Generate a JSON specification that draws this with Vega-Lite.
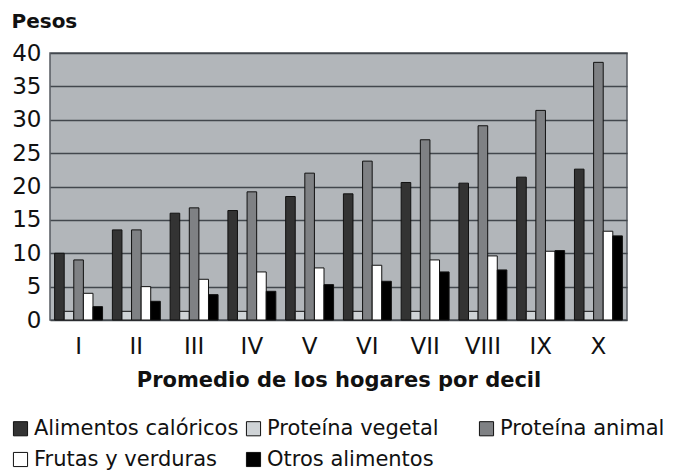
{
  "$schema": "https://vega.github.io/schema/vega-lite/v6.json",
  "autosize": "none",
  "width": 577,
  "height": 267,
  "padding": {"left": 50, "top": 53, "right": 68, "bottom": 156},
  "background": "white",
  "data": {"values": [
    {"decil": "I", "tipo": "Alimentos calóricos", "valor": 10.0},
    {"decil": "I", "tipo": "Proteína vegetal", "valor": 1.3},
    {"decil": "I", "tipo": "Proteína animal", "valor": 9.0},
    {"decil": "I", "tipo": "Frutas y verduras", "valor": 4.0},
    {"decil": "I", "tipo": "Otros alimentos", "valor": 2.0},
    {"decil": "II", "tipo": "Alimentos calóricos", "valor": 13.5},
    {"decil": "II", "tipo": "Proteína vegetal", "valor": 1.3},
    {"decil": "II", "tipo": "Proteína animal", "valor": 13.5},
    {"decil": "II", "tipo": "Frutas y verduras", "valor": 5.0},
    {"decil": "II", "tipo": "Otros alimentos", "valor": 2.8},
    {"decil": "III", "tipo": "Alimentos calóricos", "valor": 16.0},
    {"decil": "III", "tipo": "Proteína vegetal", "valor": 1.3},
    {"decil": "III", "tipo": "Proteína animal", "valor": 16.8},
    {"decil": "III", "tipo": "Frutas y verduras", "valor": 6.1},
    {"decil": "III", "tipo": "Otros alimentos", "valor": 3.8},
    {"decil": "IV", "tipo": "Alimentos calóricos", "valor": 16.4},
    {"decil": "IV", "tipo": "Proteína vegetal", "valor": 1.3},
    {"decil": "IV", "tipo": "Proteína animal", "valor": 19.2},
    {"decil": "IV", "tipo": "Frutas y verduras", "valor": 7.2},
    {"decil": "IV", "tipo": "Otros alimentos", "valor": 4.3},
    {"decil": "V", "tipo": "Alimentos calóricos", "valor": 18.5},
    {"decil": "V", "tipo": "Proteína vegetal", "valor": 1.3},
    {"decil": "V", "tipo": "Proteína animal", "valor": 22.0},
    {"decil": "V", "tipo": "Frutas y verduras", "valor": 7.8},
    {"decil": "V", "tipo": "Otros alimentos", "valor": 5.3},
    {"decil": "VI", "tipo": "Alimentos calóricos", "valor": 18.9},
    {"decil": "VI", "tipo": "Proteína vegetal", "valor": 1.3},
    {"decil": "VI", "tipo": "Proteína animal", "valor": 23.8},
    {"decil": "VI", "tipo": "Frutas y verduras", "valor": 8.2},
    {"decil": "VI", "tipo": "Otros alimentos", "valor": 5.8},
    {"decil": "VII", "tipo": "Alimentos calóricos", "valor": 20.6},
    {"decil": "VII", "tipo": "Proteína vegetal", "valor": 1.3},
    {"decil": "VII", "tipo": "Proteína animal", "valor": 27.0},
    {"decil": "VII", "tipo": "Frutas y verduras", "valor": 9.0},
    {"decil": "VII", "tipo": "Otros alimentos", "valor": 7.2},
    {"decil": "VIII", "tipo": "Alimentos calóricos", "valor": 20.5},
    {"decil": "VIII", "tipo": "Proteína vegetal", "valor": 1.3},
    {"decil": "VIII", "tipo": "Proteína animal", "valor": 29.1},
    {"decil": "VIII", "tipo": "Frutas y verduras", "valor": 9.6},
    {"decil": "VIII", "tipo": "Otros alimentos", "valor": 7.5},
    {"decil": "IX", "tipo": "Alimentos calóricos", "valor": 21.4},
    {"decil": "IX", "tipo": "Proteína vegetal", "valor": 1.3},
    {"decil": "IX", "tipo": "Proteína animal", "valor": 31.4},
    {"decil": "IX", "tipo": "Frutas y verduras", "valor": 10.3},
    {"decil": "IX", "tipo": "Otros alimentos", "valor": 10.4},
    {"decil": "X", "tipo": "Alimentos calóricos", "valor": 22.6},
    {"decil": "X", "tipo": "Proteína vegetal", "valor": 1.3},
    {"decil": "X", "tipo": "Proteína animal", "valor": 38.6},
    {"decil": "X", "tipo": "Frutas y verduras", "valor": 13.3},
    {"decil": "X", "tipo": "Otros alimentos", "valor": 12.6}
  ]},
  "mark": {"type": "bar", "stroke": "#111111", "strokeWidth": 1},
  "encoding": {
    "x": {
      "field": "decil", "type": "nominal",
      "sort": ["I","II","III","IV","V","VI","VII","VIII","IX","X"],
      "scale": {"paddingInner": 0.17, "paddingOuter": 0.08},
      "axis": {
        "title": "Promedio de los hogares por decil",
        "labelAngle": 0, "labelFontSize": 23, "labelFont": "DejaVu Sans",
        "labelColor": "#111111", "labelPadding": 15,
        "ticks": false, "domain": false, "grid": false,
        "titleFont": "DejaVu Sans", "titleFontSize": 21, "titleFontWeight": "bold",
        "titleColor": "#111111", "titlePadding": 11
      }
    },
    "xOffset": {
      "field": "tipo", "type": "nominal",
      "sort": ["Alimentos calóricos","Proteína vegetal","Proteína animal","Frutas y verduras","Otros alimentos"],
      "scale": {"paddingInner": 0}
    },
    "y": {
      "field": "valor", "type": "quantitative",
      "scale": {"domain": [0, 40]},
      "axis": {
        "values": [0,5,10,15,20,25,30,35,40],
        "title": "Pesos", "titleAngle": 0, "titleAlign": "left", "titleBaseline": "alphabetic",
        "titleX": -39, "titleY": -26,
        "titleFont": "DejaVu Sans", "titleFontSize": 20, "titleFontWeight": "bold", "titleColor": "#111111",
        "labelFontSize": 23, "labelFont": "DejaVu Sans", "labelColor": "#111111", "labelPadding": 9,
        "ticks": false, "domain": false,
        "grid": true, "gridColor": "#42474d", "gridWidth": 1.6
      }
    },
    "fill": {
      "field": "tipo", "type": "nominal",
      "sort": ["Alimentos calóricos","Proteína vegetal","Proteína animal","Frutas y verduras","Otros alimentos"],
      "scale": {
        "domain": ["Alimentos calóricos","Proteína vegetal","Proteína animal","Frutas y verduras","Otros alimentos"],
        "range": ["#333333","#cfd3d6","#7f8184","#ffffff","#000000"]
      },
      "legend": {
        "title": null, "orient": "none", "direction": "horizontal", "columns": 3,
        "gridAlign": "all",
        "legendX": -40, "legendY": 365,
        "symbolType": "square", "symbolSize": 200, "symbolStrokeColor": "#111111", "symbolStrokeWidth": 1,
        "labelFont": "DejaVu Sans", "labelFontSize": 21, "labelColor": "#111111", "labelOffset": 3,
        "labelLimit": 400, "columnPadding": 4, "rowPadding": 9
      }
    }
  },
  "config": {
    "view": {"fill": "#b2b6ba", "stroke": "#555a60", "strokeWidth": 1.5}
  }
}
